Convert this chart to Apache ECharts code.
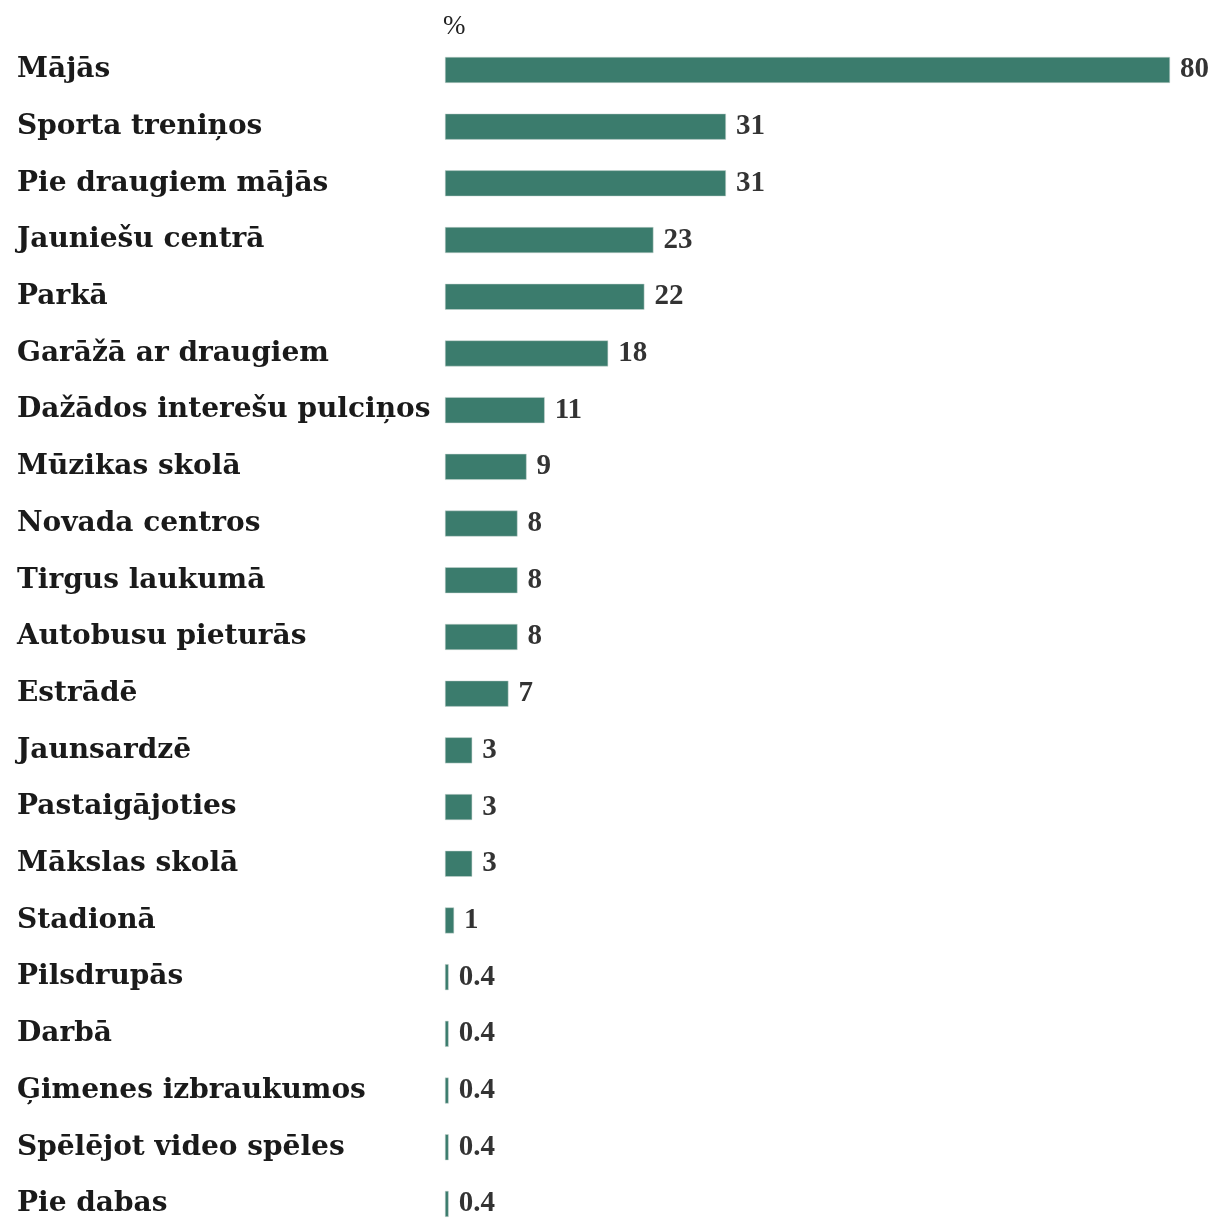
<!DOCTYPE html>
<html><head><meta charset="utf-8">
<script src="https://cdn.jsdelivr.net/npm/echarts@6/dist/echarts.min.js"></script>
<style>html,body{margin:0;padding:0;background:#fff;overflow:hidden;width:1216px;height:1220px}#c{width:1216px;height:1240px}</style>
</head><body><div id="c"></div>
<script>
const categories = ["Mājās","Sporta treniņos","Pie draugiem mājās","Jauniešu centrā","Parkā","Garāžā ar draugiem","Dažādos interešu pulciņos","Mūzikas skolā","Novada centros","Tirgus laukumā","Autobusu pieturās","Estrādē","Jaunsardzē","Pastaigājoties","Mākslas skolā","Stadionā","Pilsdrupās","Darbā","Ģimenes izbraukumos","Spēlējot video spēles","Pie dabas"];
const values = [80,31,31,23,22,18,11,9,8,8,8,7,3,3,3,1,0.4,0.4,0.4,0.4,0.4];
const unitLabel = "%";
const chart = echarts.init(document.getElementById('c'));
chart.setOption({
  animation:false,
  backgroundColor:'#fff',
  graphic:[{type:'text',left:443,top:13,style:{text:unitLabel,font:'27px "Liberation Serif"',fill:'#222'}}],
  grid:{left:445,top:41.6,width:725,height:1190.7,containLabel:false},
  xAxis:{type:'value',min:0,max:80,show:false},
  yAxis:{type:'category',data:categories,inverse:true,
    axisLine:{show:false},axisTick:{show:false},
    axisLabel:{align:'left',margin:428,fontFamily:'DejaVu Serif',fontWeight:'bold',fontSize:28,color:'#1a1a1a',padding:[8,0,0,0]}},
  series:[{type:'bar',data:values,barWidth:26,
    itemStyle:{color:'#3b7c6d',borderColor:'#c8d4d0',borderWidth:0.5},
    label:{show:true,position:'right',distance:10,fontFamily:'Liberation Serif',fontWeight:'bold',fontSize:29,color:'#333',padding:[3,0,0,0]}}]
});
</script></body></html>
